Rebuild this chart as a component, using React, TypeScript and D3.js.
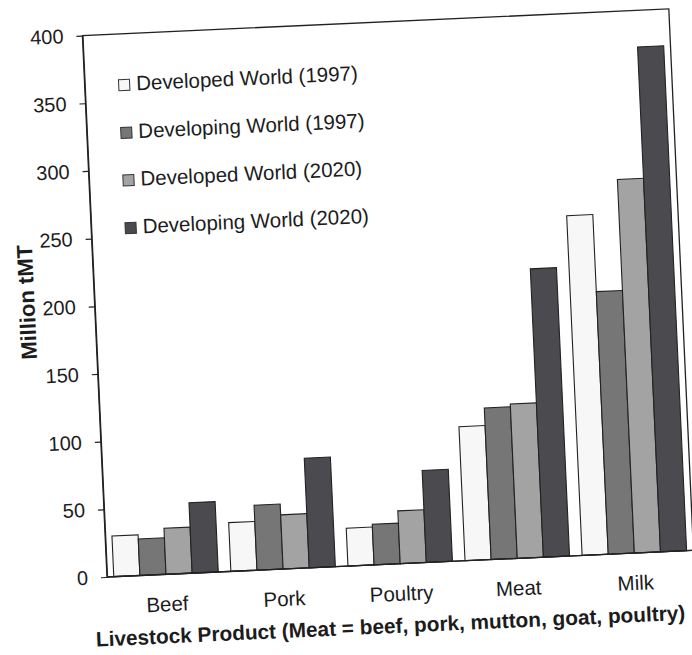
import React, { useEffect, useRef } from 'react';
import * as d3 from 'd3';

const categories = ['Beef', 'Pork', 'Poultry', 'Meat', 'Milk'];
const seriesNames = [
  'Developed World (1997)',
  'Developing World (1997)',
  'Developed World (2020)',
  'Developing World (2020)',
];
const developed1997 = [30, 36, 28, 99, 251];
const developing1997 = [27, 48, 30, 112, 194];
const developed2020 = [34, 40, 39, 114, 276];
const developing2020 = [52, 81, 68, 213, 373];
const yTicks = [0, 50, 100, 150, 200, 250, 300, 350, 400];
const seriesColors = ['#f7f7f7', '#767676', '#a3a3a3', '#4a4a4f'];
const yTitle = 'Million tMT';
const xTitle = 'Livestock Product (Meat = beef, pork, mutton, goat, poultry)';

const W = 692;
const H = 655;
const OX = 107;
const OY = 577;
const PW = 587;
const PH = 542;
const ANGLE = -2.6;
const FONT = "'Liberation Sans', Arial, Helvetica, sans-serif";
const INK = '#1c1c1c';

export default function App() {
  const ref = useRef<SVGSVGElement | null>(null);

  useEffect(() => {
    const svg = d3.select(ref.current);
    svg.selectAll('*').remove();
    svg.append('rect').attr('width', W).attr('height', H).attr('fill', '#ffffff');

    const g = svg.append('g').attr('transform', `rotate(${ANGLE}, ${OX}, ${OY})`);

    const allSeries = [developed1997, developing1997, developed2020, developing2020];

    const x0 = d3
      .scaleBand<string>()
      .domain(categories)
      .range([OX, OX + PW])
      .paddingInner(0.1075)
      .paddingOuter(0.058);
    const x1 = d3.scaleBand<string>().domain(seriesNames).range([0, x0.bandwidth()]).padding(0);
    const y = d3.scaleLinear().domain([0, 400]).range([OY, OY - PH]);

    // bars
    categories.forEach((cat, i) => {
      seriesNames.forEach((s, j) => {
        const v = allSeries[j][i];
        g.append('rect')
          .attr('x', (x0(cat) as number) + (x1(s) as number))
          .attr('y', y(v))
          .attr('width', x1.bandwidth())
          .attr('height', y(0) - y(v))
          .attr('fill', seriesColors[j])
          .attr('stroke', '#222')
          .attr('stroke-width', 1.1);
      });
    });

    // frame (top + right)
    g.append('rect')
      .attr('x', OX)
      .attr('y', OY - PH)
      .attr('width', PW)
      .attr('height', PH)
      .attr('fill', 'none')
      .attr('stroke', '#222')
      .attr('stroke-width', 1.3);

    // left axis
    const yAxis = d3.axisLeft(y).tickValues(yTicks).tickSize(6).tickSizeOuter(0).tickPadding(13);
    const ya = g.append('g').attr('transform', `translate(${OX},0)`).call(yAxis);
    ya.selectAll('path').attr('stroke', '#222').attr('stroke-width', 1.3);
    ya.selectAll('line').attr('stroke', '#222').attr('stroke-width', 1.2);
    ya.selectAll('text')
      .attr('fill', INK)
      .style('font-family', FONT)
      .style('font-size', '20px');

    // bottom axis line
    g.append('line')
      .attr('x1', OX)
      .attr('x2', OX + PW)
      .attr('y1', OY)
      .attr('y2', OY)
      .attr('stroke', '#222')
      .attr('stroke-width', 1.3);

    // category labels
    categories.forEach((cat) => {
      g.append('text')
        .attr('x', (x0(cat) as number) + x0.bandwidth() / 2)
        .attr('y', OY + 37)
        .attr('text-anchor', 'middle')
        .attr('fill', INK)
        .style('font-family', FONT)
        .style('font-size', '20.5px')
        .text(cat);
    });

    // x title
    g.append('text')
      .attr('x', 388)
      .attr('y', OY + 69)
      .attr('text-anchor', 'middle')
      .attr('fill', INK)
      .style('font-family', FONT)
      .style('font-size', '20.8px')
      .style('font-weight', 'bold')
      .text(xTitle);

    // y title
    g.append('text')
      .attr('transform', `translate(47, 299) rotate(-90)`)
      .attr('text-anchor', 'middle')
      .attr('fill', INK)
      .style('font-family', FONT)
      .style('font-size', '22px')
      .style('font-weight', 'bold')
      .text(yTitle);

    // legend
    seriesNames.forEach((s, j) => {
      const cy = 86.3 + j * 47.7;
      g.append('rect')
        .attr('x', 141)
        .attr('y', cy - 5.5)
        .attr('width', 11)
        .attr('height', 11)
        .attr('fill', seriesColors[j])
        .attr('stroke', '#333')
        .attr('stroke-width', 1);
      g.append('text')
        .attr('x', 158.5)
        .attr('y', cy + 5.8)
        .attr('fill', INK)
        .style('font-family', FONT)
        .style('font-size', '20.5px')
        .text(s);
    });
  }, []);

  return (
    <svg
      ref={ref}
      width={W}
      height={H}
      style={{ position: 'absolute', left: 0, top: 0, display: 'block' }}
    />
  );
}
